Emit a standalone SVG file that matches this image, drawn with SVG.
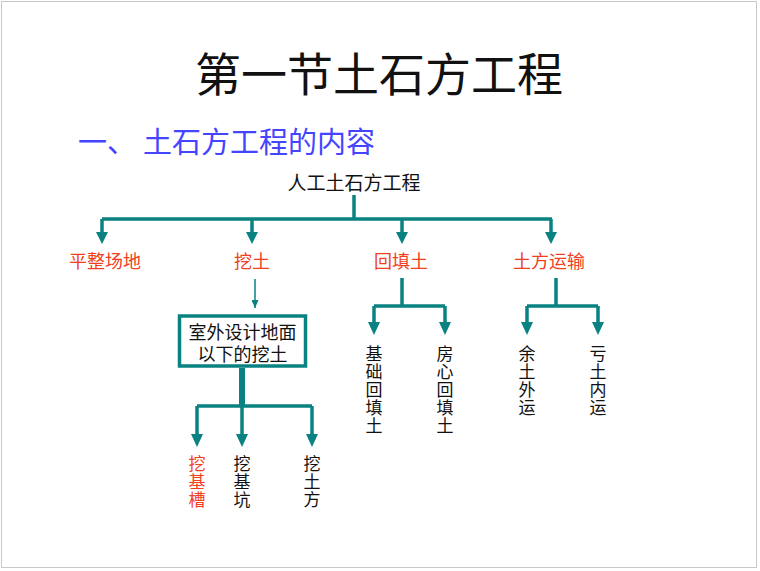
<svg xmlns="http://www.w3.org/2000/svg" width="760" height="571" viewBox="0 0 760 571">
<style>
text{font-family:"Noto Sans CJK SC","Noto Sans CJK JP",sans-serif;dominant-baseline:central;text-anchor:middle;fill:#111}
.red{fill:#f0401e}
.lbl{font-size:18px}
.v{font-size:17px}
.ln{fill:none;stroke:#0a8282;stroke-width:3.5}
.thin{fill:none;stroke:#0a8282;stroke-width:1.5}
</style>
<defs>
<marker id="ahs" markerUnits="userSpaceOnUse" markerWidth="7" markerHeight="8" viewBox="0 0 7 8" refX="3.5" refY="8" orient="0">
<path d="M0,0 L7,0 L3.5,8 Z" fill="#0a8282"/>
</marker>
</defs>
<rect x="1.5" y="1.5" width="755" height="566" fill="#fff" stroke="#c8c8c8" stroke-width="1"/>
<g id="title"><text x="379" y="71" style="font-size:46px">第一节土石方工程</text></g>
<g id="subtitle"><text x="78" y="140" style="font-size:29px;fill:#4545ff;text-anchor:start">一、<tspan x="143">土石方工程的内容</tspan></text></g>
<g id="connectors">
<path class="ln" d="M354,195 V219"/>
<path class="ln" d="M102,219 H552"/>
<path class="thin" d="M255,279 V308" marker-end="url(#ahs)"/>
<path class="ln" d="M402,278 V306 M374,306 H445 M556,278 V306 M527,306 H598"/>
<path class="ln" d="M242,368 V406" style="stroke-width:6"/>
<path class="ln" d="M197,406 H312"/>
<g fill="#0a8282">
<path d="M102,219 V233 M252,219 V233 M402,219 V233 M551,219 V233" class="ln"/>
<path d="M96,232 H108 L102,244 Z M246,232 H258 L252,244 Z M396,232 H408 L402,244 Z M545,232 H557 L551,244 Z"/>
<path d="M374,306 V323 M445,306 V323 M527,306 V323 M598,306 V323" class="ln"/>
<path d="M368,322 H380 L374,335 Z M439,322 H451 L445,335 Z M521,322 H533 L527,335 Z M592,322 H604 L598,335 Z"/>
<path d="M197,406 V435 M242,406 V435 M312,406 V435" class="ln"/>
<path d="M191,434 H203 L197,447 Z M236,434 H248 L242,447 Z M306,434 H318 L312,447 Z"/>
</g>
</g>
<g id="root"><text x="354" y="181" class="lbl" style="font-size:19px">人工土石方工程</text></g>
<g id="n1"><text x="105" y="260" class="lbl red">平整场地</text></g>
<g id="n2"><text x="252" y="260" class="lbl red">挖土</text></g>
<g id="n3"><text x="401" y="260" class="lbl red">回填土</text></g>
<g id="n4"><text x="549" y="260" class="lbl red">土方运输</text></g>
<g id="box">
<rect x="179.5" y="316" width="126" height="50" fill="#fff" stroke="#0a8282" stroke-width="3.5"/>
<text x="242.5" y="331" style="font-size:18px">室外设计地面</text>
<text x="242.5" y="353" style="font-size:18px">以下的挖土</text>
</g>
<g id="n5"><text class="v red"><tspan x="197" y="462">挖</tspan><tspan x="197" y="480">基</tspan><tspan x="197" y="498">槽</tspan></text></g>
<g id="n6"><text class="v"><tspan x="242" y="462">挖</tspan><tspan x="242" y="480">基</tspan><tspan x="242" y="498">坑</tspan></text></g>
<g id="n7"><text class="v"><tspan x="312" y="462">挖</tspan><tspan x="312" y="480">土</tspan><tspan x="312" y="498">方</tspan></text></g>
<g id="n8"><text class="v"><tspan x="374" y="352">基</tspan><tspan x="374" y="370">础</tspan><tspan x="374" y="388">回</tspan><tspan x="374" y="406">填</tspan><tspan x="374" y="424">土</tspan></text></g>
<g id="n9"><text class="v"><tspan x="445" y="352">房</tspan><tspan x="445" y="370">心</tspan><tspan x="445" y="388">回</tspan><tspan x="445" y="406">填</tspan><tspan x="445" y="424">土</tspan></text></g>
<g id="n10"><text class="v"><tspan x="527" y="352">余</tspan><tspan x="527" y="370">土</tspan><tspan x="527" y="388">外</tspan><tspan x="527" y="406">运</tspan></text></g>
<g id="n11"><text class="v"><tspan x="598" y="352">亏</tspan><tspan x="598" y="370">土</tspan><tspan x="598" y="388">内</tspan><tspan x="598" y="406">运</tspan></text></g>
</svg>
